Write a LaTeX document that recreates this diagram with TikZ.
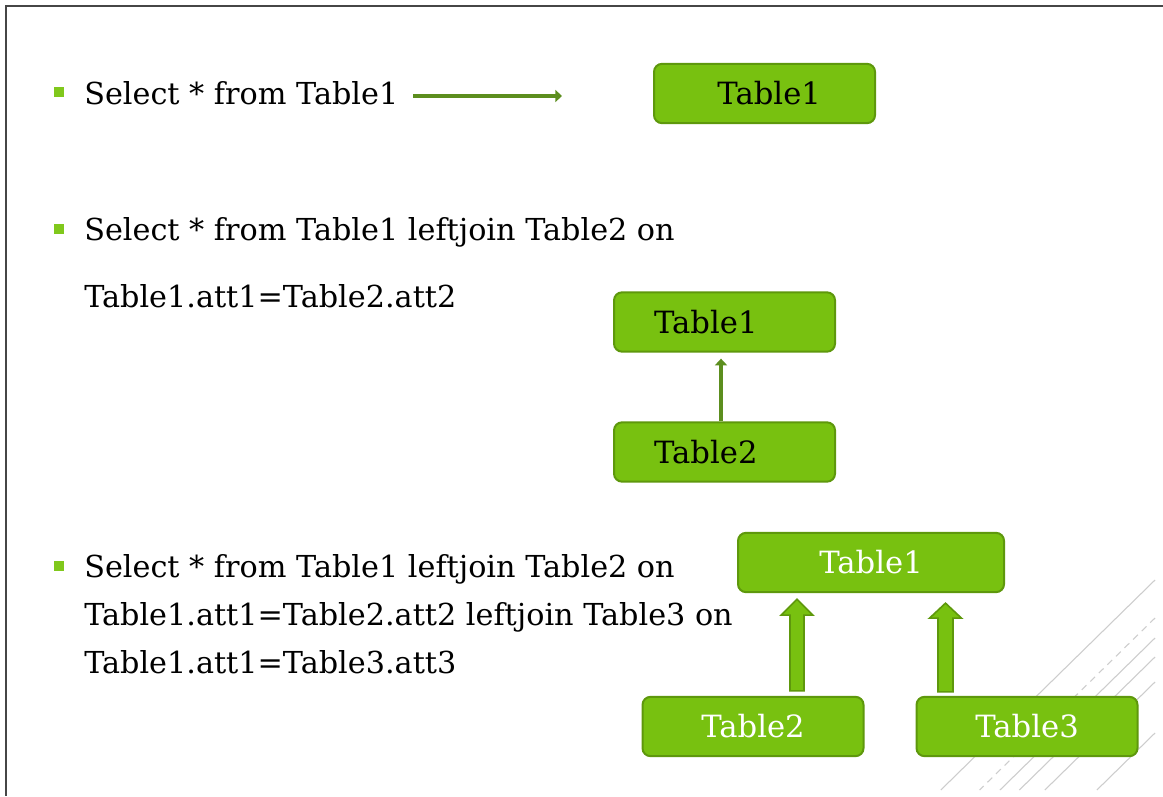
\documentclass[tikz,border=0pt]{standalone}
\usepackage{fontspec}
\setmainfont{DejaVu Serif}
\usetikzlibrary{arrows.meta,calc}
\definecolor{boxfill}{RGB}{120,193,16}
\definecolor{boxline}{RGB}{94,152,12}
\definecolor{arrowgreen}{RGB}{92,142,30}
\definecolor{bulletgreen}{RGB}{128,200,28}
\definecolor{framegray}{RGB}{70,70,70}
\definecolor{hatchgray}{RGB}{205,205,205}
\tikzset{
  tablebox/.style={draw=boxline, fill=boxfill, line width=1.5pt, rounded corners=6pt,
    minimum width=165.75pt, minimum height=44.5pt, inner sep=0pt, font=\fontsize{23}{27}\selectfont},
  darktext/.style={text=black},
  lighttext/.style={text=white},
  stmt/.style={anchor=base west, inner sep=0pt, font=\fontsize{22.7}{27}\selectfont},
  bulletsq/.style={fill=bulletgreen, draw=none, minimum size=7.5pt, inner sep=0pt},
  thinarrow/.style={draw=arrowgreen, line width=3pt, -{Triangle[width=9pt,length=5pt]}},
  blockarrow/.style={draw=boxline, fill=boxfill, line width=1.2pt, line join=miter},
  hatch/.style={draw=hatchgray, line width=0.8pt},
}
\begin{document}
\begin{tikzpicture}[x=0.75pt, y=-0.75pt]
\useasboundingbox (0,0) rectangle (1163,796);
\fill[white] (0,0) rectangle (1163,796);

% slide frame
\draw[framegray, line width=1.5pt] (1163,6) -- (6,6) -- (6,796);

% corner hatching
\foreach \y in {580,638,657,682,733}
  \draw[hatch] (1155,\y) -- ({1155-(790-\y)*1.02},790);
\draw[hatch, dash pattern=on 5pt off 4pt] (1155,618) -- ({1155-(790-618)*1.02},790);

% bullets
\node[bulletsq] (bu1) at (59,91.5) {};
\node[bulletsq] (bu2) at (59,229) {};
\node[bulletsq] (bu3) at (59,566) {};

% statements
\node[stmt] (s1) at (84,104) {Select * from Table1};
\node[stmt] (s2) at (84,240) {Select * from Table1 leftjoin Table2 on};
\node[stmt] (s2b) at (84,307) {Table1.att1=Table2.att2};
\node[stmt] (s3) at (84,577) {Select * from Table1 leftjoin Table2 on};
\node[stmt] (s3b) at (84,625) {Table1.att1=Table2.att2 leftjoin Table3 on};
\node[stmt] (s3c) at (84,673) {Table1.att1=Table3.att3};

% first query
\node[tablebox, darktext] (a1) at (764.5,93.5) {\hspace{7pt}Table1};
\coordinate (p1) at (413,96);
\coordinate (p2) at (562,96);
\draw[thinarrow] (p1) -- (p2);

% second query
\node[tablebox, darktext] (m1) at (724.5,322) {Table1\hspace{28pt}\null};
\node[tablebox, darktext] (m2) at (724.5,452) {Table2\hspace{28pt}\null};
\coordinate (mb) at ($(m2.north)+(-3.5,0)$);
\coordinate (mt) at ($(mb |- m1.south)+(0,6)$);
\draw[thinarrow] (mb) -- (mt);

% third query
\node[tablebox, lighttext, minimum width=199.5pt] (b1) at (871,562.5) {Table1};
\node[tablebox, lighttext] (b2) at (753,726.5) {Table2};
\node[tablebox, lighttext] (b3) at (1027,726.5) {Table3};

\coordinate (l0) at ($(b2.north)+(44,-5)$);
\coordinate (l1) at ($(l0 |- b1.south)+(0,6)$);
\draw[blockarrow] ($(l0)+(-7,0)$) -- ($(l1)+(-7,16)$) -- ($(l1)+(-16,16)$) -- (l1)
  -- ($(l1)+(16,16)$) -- ($(l1)+(7,16)$) -- ($(l0)+(7,0)$) -- cycle;

\coordinate (r0) at ($(b3.north)+(-81.5,-4)$);
\coordinate (r1) at ($(r0 |- b1.south)+(0,10)$);
\draw[blockarrow] ($(r0)+(-7.5,0)$) -- ($(r1)+(-7.5,15)$) -- ($(r1)+(-16,15)$) -- (r1)
  -- ($(r1)+(16,15)$) -- ($(r1)+(7.5,15)$) -- ($(r0)+(7.5,0)$) -- cycle;
\end{tikzpicture}
\end{document}
